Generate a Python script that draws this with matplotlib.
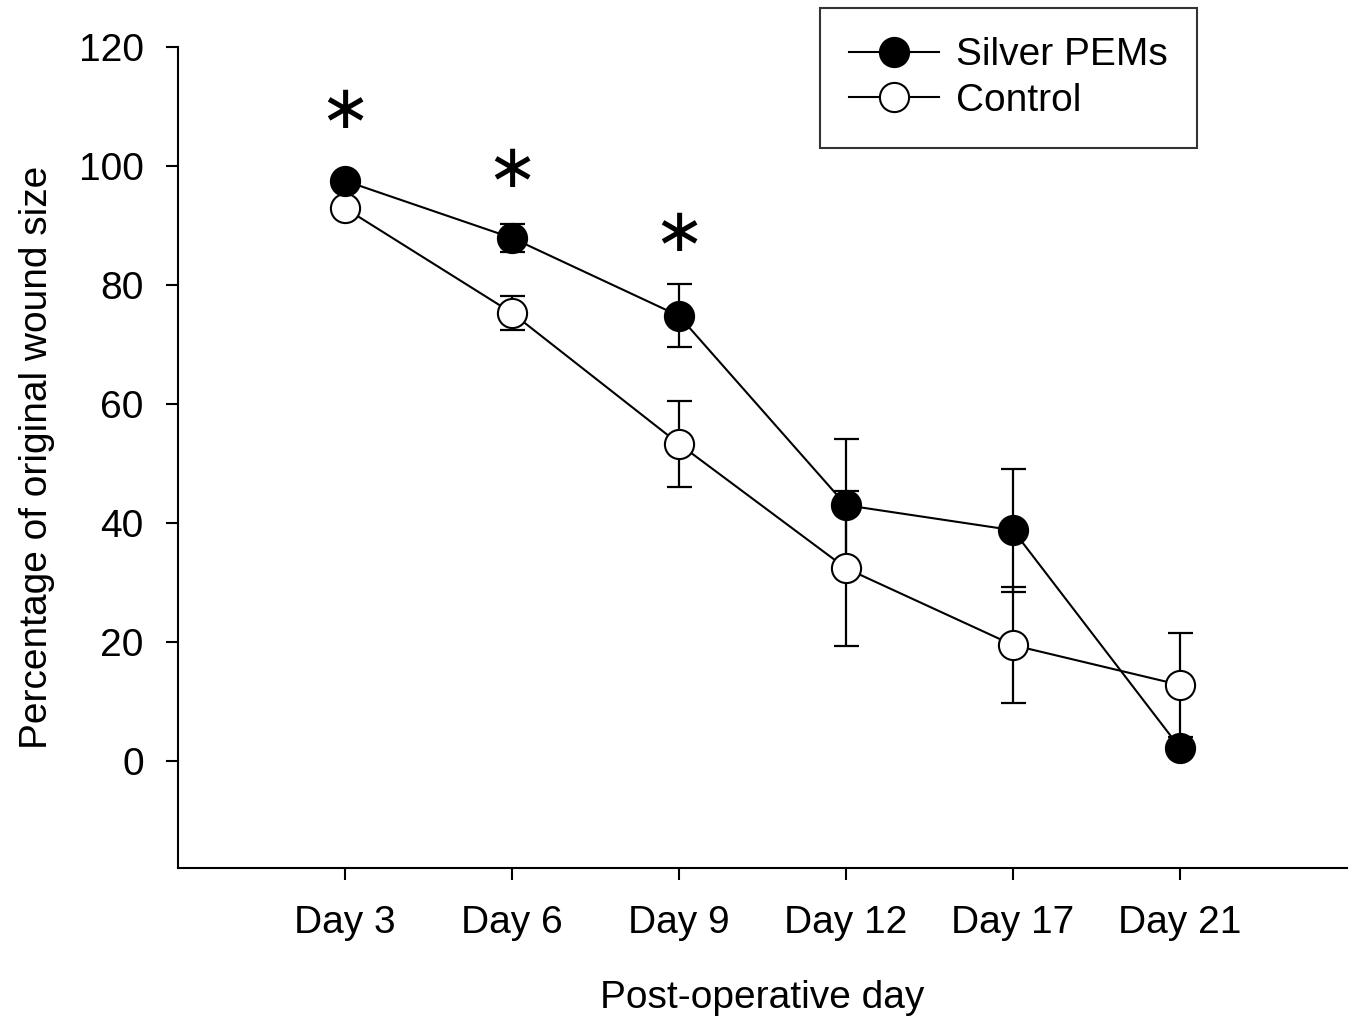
import numpy as np
import matplotlib.pyplot as plt

plt.rcParams['font.family'] = ['Liberation Sans', 'DejaVu Sans']

# data
days = ["Day 3", "Day 6", "Day 9", "Day 12", "Day 17", "Day 21"]
silver = [97.5, 87.9, 74.8, 43.0, 38.8, 2.2]
silver_err = [1.0, 2.4, 5.3, 11.1, 10.3, 1.0]
control = [92.9, 75.3, 53.3, 32.4, 19.5, 12.8]
control_err = [1.0, 2.9, 7.2, 13.0, 9.8, 8.7]
star_days = [0, 1, 2]
star_y = [109.2, 99.3, 88.4]

x = np.arange(len(days))

fig = plt.figure(figsize=(13.58, 10.18), dpi=100)
ax = fig.add_axes([0.131, 0.147, 0.861, 0.807])

# error bars behind markers
ax.errorbar(x, silver, yerr=silver_err, fmt="none", ecolor="black",
            elinewidth=1.6, capsize=9, capthick=1.6, zorder=1)
ax.errorbar(x, control, yerr=control_err, fmt="none", ecolor="black",
            elinewidth=1.6, capsize=9, capthick=1.6, zorder=1)

ax.plot(x, silver, "-o", color="black", mfc="black", mec="black",
        ms=21, mew=1.5, lw=1.5, label="Silver PEMs", zorder=3)
ax.plot(x, control, "-o", color="black", mfc="white", mec="black",
        ms=21, mew=1.5, lw=1.5, label="Control", zorder=2)

# significance stars
for d, y in zip(star_days, star_y):
    ax.text(x[d], y, "\u2217", ha="center", va="center", fontsize=44,
            family="DejaVu Sans")

ax.set_xlim(-1, 6)
ax.set_ylim(-18, 120)
ax.set_xticks(x)
ax.set_xticklabels(days)
ax.set_yticks(np.arange(0, 121, 20))

ax.spines["top"].set_visible(False)
ax.spines["right"].set_visible(False)
ax.spines["left"].set_linewidth(1.5)
ax.spines["bottom"].set_linewidth(1.5)
ax.tick_params(axis="both", direction="out", length=8.5, width=1.5,
               labelsize=28)
ax.tick_params(axis="x", pad=18)
ax.tick_params(axis="y", pad=16)

ax.set_xlabel("Post-operative day", fontsize=28, labelpad=28)
ax.set_ylabel("Percentage of original wound size", fontsize=28, labelpad=17)

leg = fig.legend(loc="upper left", bbox_to_anchor=(0.604, 0.992),
                 fontsize=28, frameon=True, fancybox=False,
                 edgecolor="black", handlelength=2.3, borderpad=0.75,
                 labelspacing=0.25, handletextpad=0.45, borderaxespad=0)
leg.get_frame().set_linewidth(1.5)

plt.savefig("out.png", dpi=100)
